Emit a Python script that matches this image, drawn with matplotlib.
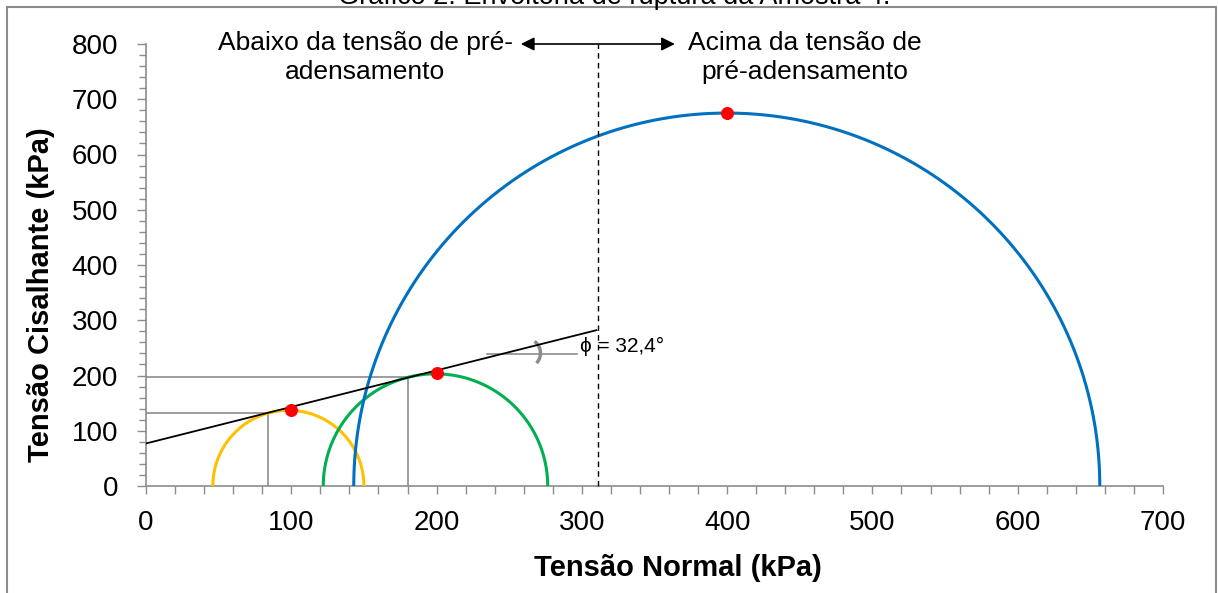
import matplotlib.pyplot as plt
import numpy as np
from matplotlib.patches import Rectangle
from matplotlib.ticker import MultipleLocator

plt.rcParams["font.family"] = ["Liberation Sans", "DejaVu Sans"]

# Mohr half-circles (left end, right end, top) in kPa
circle_left = [46, 122, 143]
circle_right = [150, 276.5, 656.5]
circle_top = [137, 203, 675]
circle_colors = ["#FFC000", "#00B050", "#0070C0"]

# peak points of each circle
peak_x = [100, 200, 400]
peak_y = [137, 205, 675]

# failure envelope (two end points)
env_x = [0, 310]
env_y = [77, 282]

# guide lines down to the axes
guide_x = [84, 180]
guide_y = [133, 197]

preconsol = 311  # pre-consolidation stress

fig = plt.figure(figsize=(12.18, 5.93), dpi=100)
ax = fig.add_axes([146 / 1218, 107 / 593, 1017 / 1218, 442 / 593])

# frame and clipped title
fig.patches.append(Rectangle((7 / 1218, -0.05), 1209 / 1218, 1.05 - 7 / 593,
                             transform=fig.transFigure, fill=False,
                             edgecolor="#8c8c8c", lw=1.5))
fig.text(614 / 1218, 1 - 3.5 / 593, "Gráfico 2: Envoltória de ruptura da Amostra 4.",
         ha="center", va="baseline", fontsize=19.5)

t = np.linspace(0, np.pi, 300)
for l, r, h, c in zip(circle_left, circle_right, circle_top, circle_colors):
    cx, a = (l + r) / 2, (r - l) / 2
    ax.plot(cx + a * np.cos(t), h * np.sin(t), color=c, lw=2.2, zorder=3)

for gx, gy in zip(guide_x, guide_y):
    ax.plot([0, gx, gx], [gy, gy, 0], color="#8c8c8c", lw=1.2, zorder=2)

ax.plot(env_x, env_y, color="black", lw=1.3, zorder=4)
ax.scatter(peak_x, peak_y, s=70, color="#FF0000", zorder=5)

# angle marker: horizontal reference and a small bracket-shaped arc
ax.plot([235, 297], [239, 239], color="#8c8c8c", lw=1.2, zorder=2)
ang = np.radians(np.linspace(-42, 52, 40))
ax.plot(261 + 10.5 * np.cos(ang), 240.5 + 27 * np.sin(ang),
        color="#8c8c8c", lw=2.5, solid_capstyle="butt", zorder=2)
ax.text(298.5, 252, "ϕ = 32,4°", fontsize=15, va="center", ha="left")

# pre-consolidation divide
ax.plot([preconsol, preconsol], [0, 800], color="black", lw=1,
        linestyle=(0, (4, 3)), clip_on=False, zorder=4)
ax.annotate("", xy=(258, 800), xytext=(364, 800),
            arrowprops=dict(arrowstyle="<|-|>", color="black", lw=1.2,
                            mutation_scale=20, shrinkA=0, shrinkB=0),
            annotation_clip=False)
fig.text(365 / 1218, 1 - 31 / 593, "Abaixo da tensão de pré-\nadensamento",
         ha="center", va="top", fontsize=19, multialignment="center",
         linespacing=1.25)
fig.text(805 / 1218, 1 - 31 / 593, "Acima da tensão de\npré-adensamento",
         ha="center", va="top", fontsize=19, multialignment="center",
         linespacing=1.25)

ax.set_xlim(0, 700)
ax.set_ylim(0, 800)
ax.xaxis.set_major_locator(MultipleLocator(100))
ax.xaxis.set_minor_locator(MultipleLocator(20))
ax.yaxis.set_major_locator(MultipleLocator(100))
ax.yaxis.set_minor_locator(MultipleLocator(20))
for side in ["top", "right"]:
    ax.spines[side].set_visible(False)
for side in ["left", "bottom"]:
    ax.spines[side].set_color("#8c8c8c")
    ax.spines[side].set_linewidth(1.2)
ax.tick_params(axis="x", which="both", direction="out", length=6,
               color="#8c8c8c", width=1, labelsize=20, pad=11)
ax.tick_params(axis="y", which="major", direction="out", length=6.5,
               color="#8c8c8c", width=1, labelsize=20, pad=13.5)
ax.tick_params(axis="y", which="minor", direction="out", length=5,
               color="#8c8c8c", width=1)

fig.text(678 / 1218, 1 - 568 / 593, "Tensão Normal (kPa)", ha="center",
         va="center", fontsize=21, fontweight="bold")
fig.text(41 / 1218, 1 - 295 / 593, "Tensão Cisalhante (kPa)", ha="center",
         va="center", fontsize=21, fontweight="bold", rotation=90)

fig.savefig("out.png", dpi=100)
